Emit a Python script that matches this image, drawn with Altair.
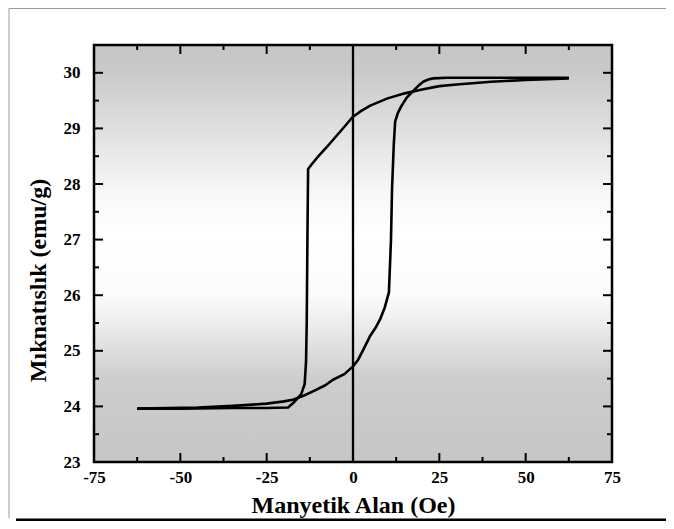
import altair as alt
import pandas as pd

W, H = 518, 417

# Descending branch (from +H to -H)
desc_x = [62.5, 50.0, 40.0, 30.0, 25.0, 20.0, 15.0, 10.0, 5.0, 2.5, 0.0, -2.5, -5.0, -7.5, -10.0,
          -12.0, -13.0, -13.2, -13.4, -13.6, -14.0, -15.0, -17.0, -18.8, -25.0, -35.0, -50.0, -62.5]
desc_y = [29.90, 29.87, 29.84, 29.79, 29.76, 29.70, 29.63, 29.54, 29.41, 29.32, 29.21, 29.03, 28.85, 28.67, 28.50,
          28.35, 28.27, 27.00, 25.50, 24.80, 24.40, 24.22, 24.08, 23.98, 23.97, 23.97, 23.96, 23.96]

# Ascending branch (from -H to +H)
asc_x = [-62.5, -45.0, -34.7, -25.0, -20.0, -17.4, -14.0, -11.6, -8.0, -5.8, -2.5, 0.0, 1.5, 3.0, 4.9, 6.4, 7.8, 9.2,
         10.4, 11.0, 11.3, 11.8, 12.2, 13.0, 14.0, 15.5, 17.5, 19.0, 20.3, 21.8, 23.2, 27.2, 40.0, 62.5]
asc_y = [23.96, 23.98, 24.01, 24.05, 24.09, 24.12, 24.20, 24.27, 24.38, 24.48, 24.58, 24.72, 24.84, 25.02, 25.26, 25.40,
         25.56, 25.78, 26.05, 27.00, 27.90, 28.70, 29.12, 29.28, 29.40, 29.55, 29.68, 29.77, 29.84, 29.88, 29.90, 29.91,
         29.91, 29.91]

x_major = [-75, -50, -25, 0, 25, 50, 75]
x_minor = [-62.5, -37.5, -12.5, 12.5, 37.5, 62.5]
y_major = [23, 24, 25, 26, 27, 28, 29, 30]
y_minor = [23.5, 24.5, 25.5, 26.5, 27.5, 28.5, 29.5]

x_title = "Manyetik Alan (Oe)"
y_title = "Mıknatıslık (emu/g)"

FONT = "Liberation Serif"

rows = []
for i, (a, b) in enumerate(zip(desc_x, desc_y)):
    rows.append({"branch": "desc", "order": i, "x": a, "y": b})
for i, (a, b) in enumerate(zip(asc_x, asc_y)):
    rows.append({"branch": "asc", "order": i, "x": a, "y": b})
loop = pd.DataFrame(rows)

one = pd.DataFrame({"v": [0]})

xscale = alt.Scale(domain=[-75, 75], nice=False, zero=False)
yscale = alt.Scale(domain=[23, 30.5], nice=False, zero=False)

x_axis = alt.Axis(
    values=x_major, title=x_title, ticks=False, domain=False, grid=False,
    labelFlush=False, labelOverlap=False, labelExpr="datum.value + ''",
    labelFont=FONT, labelFontSize=17, labelFontWeight="bold", labelColor="black",
    labelPadding=7, titleFont=FONT, titleFontSize=24, titleFontWeight="bold",
    titleColor="black", titlePadding=8,
)
y_axis = alt.Axis(
    values=y_major, title=y_title, ticks=False, domain=False, grid=False,
    labelOverlap=False, labelExpr="datum.value + ''",
    labelFont=FONT, labelFontSize=17, labelFontWeight="bold", labelColor="black",
    labelPadding=14, titleFont=FONT, titleFontSize=24, titleFontWeight="bold",
    titleColor="black", titleX=-56, titleY=235, titleAngle=270,
    titleAlign="center", titleBaseline="middle",
)


def X(field):
    return alt.X(field, scale=xscale, axis=x_axis, title=x_title)


def Y(field):
    return alt.Y(field, scale=yscale, axis=y_axis, title=y_title)


grad = alt.Gradient(
    gradient="linear", x1=0, x2=0, y1=0, y2=1,
    stops=[
        alt.GradientStop(color="#c6c6c6", offset=0),
        alt.GradientStop(color="#c9c9c9", offset=0.06),
        alt.GradientStop(color="#f8f8f8", offset=0.36),
        alt.GradientStop(color="#ffffff", offset=0.46),
        alt.GradientStop(color="#fbfbfb", offset=0.60),
        alt.GradientStop(color="#ececec", offset=0.67),
        alt.GradientStop(color="#cdcdcd", offset=0.80),
        alt.GradientStop(color="#c6c6c6", offset=1),
    ],
)

bg = alt.Chart(one).mark_rect(fill=grad).encode(
    x=alt.value(0), x2=alt.value(W), y=alt.value(0), y2=alt.value(H)
)

zero_line = alt.Chart(one).mark_rule(color="black", strokeWidth=2.3).encode(
    x=X("v:Q"), y=alt.value(0), y2=alt.value(H)
)

line = alt.Chart(loop).mark_line(color="black", strokeWidth=2.6, strokeJoin="round").encode(
    x=X("x:Q"),
    y=Y("y:Q"),
    detail="branch:N",
    order="order:Q",
)

MAJ, MIN = 9, 5


def xticks(vals, length, side):
    df = pd.DataFrame({"v": vals})
    if side == "bottom":
        y0, y1 = H, H - length
    else:
        y0, y1 = 0, length
    return alt.Chart(df).mark_rule(color="black", strokeWidth=2).encode(
        x=X("v:Q"), y=alt.value(y0), y2=alt.value(y1)
    )


def yticks(vals, length, side):
    df = pd.DataFrame({"v": vals})
    if side == "left":
        x0, x1 = 0, length
    else:
        x0, x1 = W, W - length
    return alt.Chart(df).mark_rule(color="black", strokeWidth=2).encode(
        y=Y("v:Q"), x=alt.value(x0), x2=alt.value(x1)
    )


ticks = [
    xticks(x_major, MAJ, "bottom"), xticks(x_minor, MIN, "bottom"),
    xticks(x_major, MAJ, "top"), xticks(x_minor, MIN, "top"),
    yticks(y_major, MAJ, "left"), yticks(y_minor, MIN, "left"),
    yticks(y_major, MAJ, "right"), yticks(y_minor, MIN, "right"),
]

frame = alt.Chart(one).mark_rect(fill="transparent", stroke="black", strokeWidth=2.5).encode(
    x=alt.value(0), x2=alt.value(W), y=alt.value(0), y2=alt.value(H)
)

# figure frame decorations (outside plot area)
left_grey = alt.Chart(one).mark_rule(color="#9a9a9a", strokeWidth=1).encode(
    x=alt.value(-85), y=alt.value(-37), y2=alt.value(473)
)
top_grey = alt.Chart(one).mark_rule(color="#9a9a9a", strokeWidth=1).encode(
    x=alt.value(-85), x2=alt.value(572), y=alt.value(-36.5)
)
bottom_bar = alt.Chart(one).mark_rect(color="black").encode(
    x=alt.value(-78), x2=alt.value(572), y=alt.value(473.5), y2=alt.value(476)
)

chart = alt.layer(
    bg, zero_line, line, *ticks, frame, left_grey, top_grey, bottom_bar
).properties(
    width=W, height=H,
    padding={"left": 86, "top": 37, "right": 54, "bottom": 59},
    autosize=alt.AutoSizeParams(type="none"),
).configure_view(stroke="transparent").configure(background="white")

chart.save("out.html", embed_options={"renderer": "svg", "actions": False})
